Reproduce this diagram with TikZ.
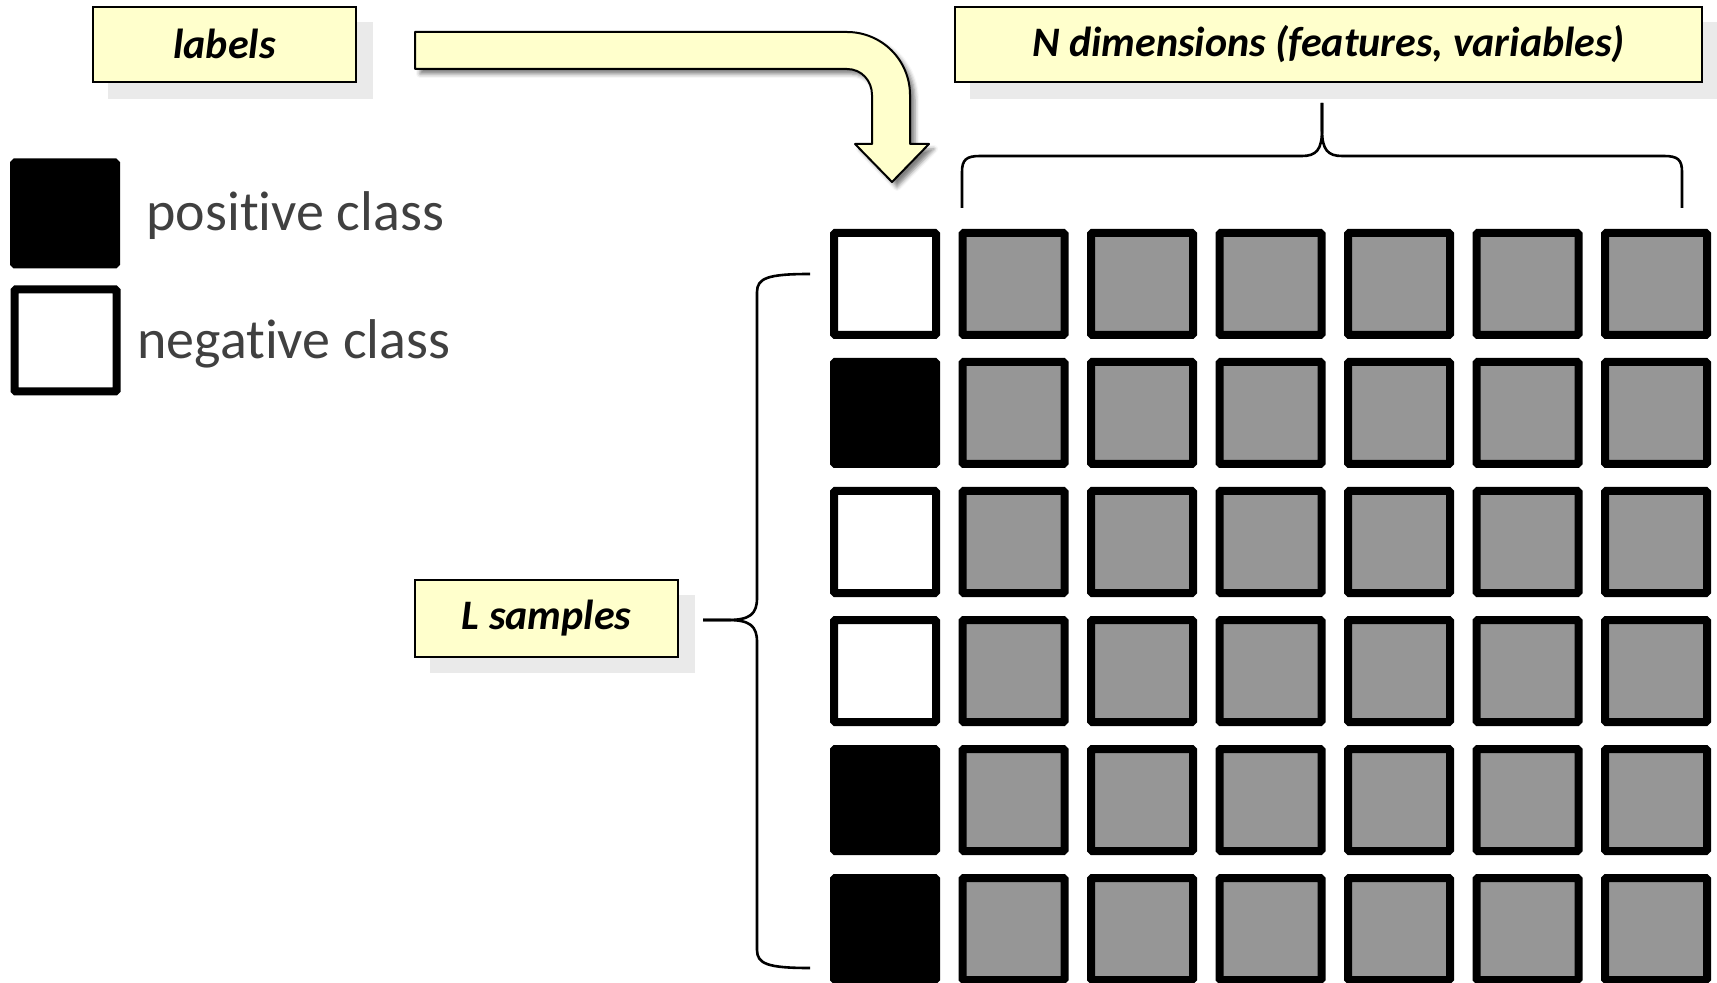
\documentclass[tikz,border=0pt]{standalone}
\usepackage{fontspec}
\setmainfont[Ligatures={NoCommon,NoContextual}]{Carlito}
\usetikzlibrary{shadows.blur}
\definecolor{boxyellow}{HTML}{FFFFCC}
\definecolor{shadowgray}{HTML}{EAEAEA}
\definecolor{featgray}{HTML}{969696}
\definecolor{legendtext}{HTML}{404040}
\begin{document}
\begin{tikzpicture}[x=0.5pt,y=-0.5pt,
  cell/.style={draw=black, line width=4pt, minimum size=51pt, inner sep=0pt, rounded corners=0.6pt},
  feat/.style={cell, fill=featgray},
  poscell/.style={cell, fill=black},
  negcell/.style={cell, fill=white},
  titlebox/.style={draw=black, line width=0.8pt, fill=boxyellow, inner sep=0pt, font=\fontsize{21}{25}\selectfont\bfseries\itshape},
  boxshadow/.style={fill=shadowgray, draw=none},
  legendlabel/.style={anchor=base west, inner sep=0pt, text=legendtext, font=\fontsize{28}{34}\selectfont},
  bracket/.style={draw=black, line width=1.3pt},
  bentarrow/.style={draw=black, line width=1pt, fill=boxyellow, line join=round,
    blur shadow={shadow xshift=2.5pt, shadow yshift=-2.5pt, shadow blur radius=2pt, shadow opacity=50}}
]
\useasboundingbox (0,0) rectangle (1717,983);
\clip (0,0) rectangle (1717,983);

% title boxes with flat shadows
\fill[boxshadow] (108,22) rectangle (373,99);
\node[titlebox, minimum width=131.5pt, minimum height=37.5pt] (labelsbox) at (224.5,44.5) {\raisebox{1pt}{labels}};
\fill[boxshadow] (970,22) rectangle (1730,99);
\node[titlebox, minimum width=373.5pt, minimum height=37.5pt] (dimbox) at (1328.5,44.5) {N dimensions (features, variables)};
\fill[boxshadow] (430,595) rectangle (695,673);
\node[titlebox, minimum width=131.5pt, minimum height=38.5pt] (samplesbox) at (546.5,618.5) {L samples};

% bent arrow
\path[bentarrow] (415,32) -- (847,32) .. controls (881.8,32) and (910,60.2) .. (910,95)
  -- (910,144) -- (929,144) -- (892,182) -- (855,144) -- (872,144) -- (872,95)
  .. controls (872,80.6) and (861.4,69) .. (847,69) -- (415,69) -- cycle;

% legend
\node[poscell] (legpos) at (65,213.5) {};
\node[negcell] (legneg) at (65.5,340.5) {};
\node[legendlabel] (postext) at (146,231) {positive class};
\node[legendlabel] (negtext) at (137,359) {negative class};

% grid
\foreach \j/\cls in {0/negcell,1/poscell,2/negcell,3/negcell,4/poscell,5/poscell} {
  \node[\cls] (lab-\j) at (885, 284+129*\j) {};
  \foreach \i in {1,...,6} {
    \node[feat] (f-\j-\i) at (885+128.5*\i, 284+129*\j) {};
  }
}

% top brace
\coordinate (nbleft) at (962,208);
\coordinate (nbtip) at (1322,103);
\coordinate (nbright) at (1682,208);
\draw[bracket] (nbleft) -- (962,172) .. controls (962,160) and (966,156) .. (980,156) -- (1302,156)
  .. controls (1316,156) and (1322,150) .. (1322,130) -- (nbtip);
\draw[bracket] (nbtip) -- (1322,130) .. controls (1322,150) and (1328,156) .. (1342,156) -- (1664,156)
  .. controls (1678,156) and (1682,160) .. (1682,172) -- (nbright);

% left brace
\coordinate (lbtop) at (810,274);
\coordinate (lbtip) at (703,620);
\coordinate (lbbot) at (810,968);
\draw[bracket] (lbtop) .. controls (768,274) and (757,278) .. (757,292) -- (757,598)
  .. controls (757,614) and (750,620) .. (728,620) -- (lbtip);
\draw[bracket] (lbtip) -- (728,620) .. controls (750,620) and (757,626) .. (757,642) -- (757,950)
  .. controls (757,964) and (768,968) .. (lbbot);
\end{tikzpicture}
\end{document}
